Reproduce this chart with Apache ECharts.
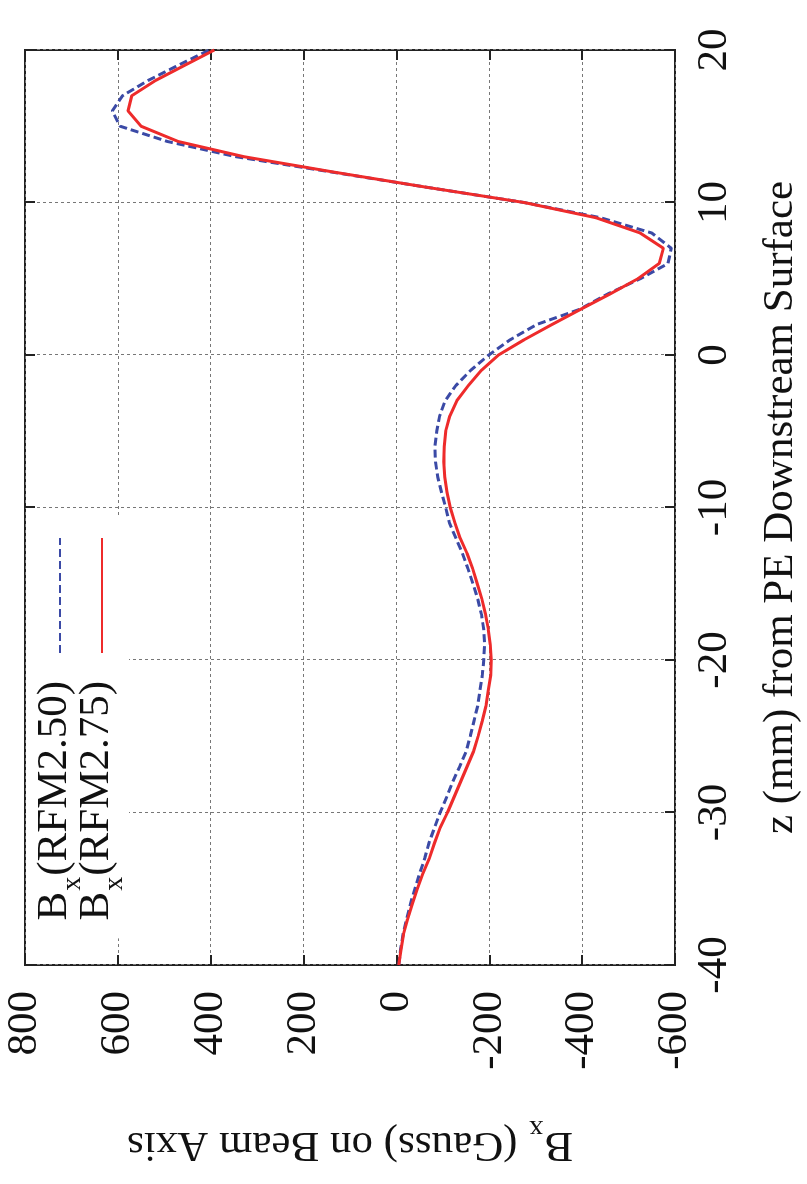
<!DOCTYPE html>
<html>
<head>
<meta charset="utf-8">
<script src="https://cdn.jsdelivr.net/npm/echarts@6/dist/echarts.min.js"></script>
<style>
html,body{margin:0;padding:0;background:#fff;overflow:hidden;width:807px;height:1184px;}
#chart{position:absolute;left:0;top:0;width:1184px;height:807px;transform-origin:0 0;transform:translate(0px,1184px) rotate(-90deg);background:#fff;}
</style>
</head>
<body>
<div id="chart"></div>
<script>
// z position (mm) from PE downstream surface
const zValues = [-40,-39,-38,-37,-36,-35,-34,-33,-32,-31,-30,-29,-28,-27,-26,-25,-24,-23,-22,-21,
  -20,-19,-18,-17,-16,-15,-14,-13,-12,-11,-10,-9,-8,-7,-6,-5,-4,-3,-2,-1,
  0,1,2,3,4,5,6,7,8,9,10,11,12,13,14,15,16,17,18,19,20];
// Bx (Gauss), RFM2.50 (blue dashed)
const bxRFM250 = [-5,-9,-14,-22,-30,-40,-50,-61,-70,-82,-94,-108,-121,-136,-150,-159,-167,-175,-180,-185,
  -188,-190,-188,-183,-175,-165,-154,-142,-128,-114,-106,-97,-89,-84,-83,-87,-93,-105,-128,-160,
  -199,-245,-302,-395,-455,-525,-585,-592,-550,-440,-275,-65,140,345,493,595,612,590,535,470,403];
// Bx (Gauss), RFM2.75 (red solid)
const bxRFM275 = [-5,-10,-15,-24,-34,-45,-57,-71,-82,-94,-110,-124,-138,-152,-166,-176,-185,-193,-198,-203,
  -204,-202,-198,-192,-184,-174,-164,-152,-137,-126,-116,-109,-104,-102,-103,-106,-115,-130,-155,-183,
  -220,-275,-335,-397,-460,-520,-566,-575,-525,-430,-275,-65,136,328,470,550,578,570,519,456,392];
const seriesNames = ['RFM2.50', 'RFM2.75'];
const zAxisTitle = 'z (mm) from PE Downstream Surface';
const bxAxisTitle = ' (Gauss) on Beam Axis';

const FONT = '"Liberation Serif", "Times New Roman", serif';
const BLUE = '#3b4aa6';
const RED = '#ee2b2b';

const rich = {
  b: {fontFamily: FONT, fontSize: 43, color: '#111', lineHeight: 34, padding: [0, 0, 10, 0]},
  s: {fontFamily: FONT, fontSize: 28, color: '#111', lineHeight: 18, padding: [26, 1, 0, 1]},
  g: {width: 23, lineHeight: 34}
};
const nameRich = {
  b: {fontFamily: FONT, fontSize: 43, color: '#111', lineHeight: 34, padding: [0, 0, 10, 0]},
  s: {fontFamily: FONT, fontSize: 28, color: '#111', lineHeight: 18, padding: [22, 1, 0, 1]}
};

const chart = echarts.init(document.getElementById('chart'));
const gridLine = {show: true, lineStyle: {color: '#777', width: 1, type: [3, 3]}};
const tick = {show: true, inside: true, length: 10, lineStyle: {color: '#222', width: 2}};
const noLine = {show: false, onZero: false};
const labelStyle = {fontFamily: FONT, fontSize: 43, color: '#111'};

chart.setOption({
  animation: false,
  backgroundColor: '#fff',
  grid: {left: 219, right: 50, top: 25, bottom: 124, show: true, borderColor: '#222', borderWidth: 2, backgroundColor: 'transparent'},
  legend: {
    orient: 'vertical', align: 'right', right: 515, top: 26,
    padding: [7, 22, 0, 18], backgroundColor: '#fff',
    itemWidth: 115, itemHeight: 14, itemGap: -12,
    itemStyle: {opacity: 0, borderWidth: 0},
    data: seriesNames,
    formatter: function (n) { return '{b|B}{s|x}{b|(' + n + ')}{g|}'; },
    textStyle: {fontFamily: FONT, fontSize: 43, color: '#111', rich: rich}
  },
  xAxis: [{
    type: 'value', min: -40, max: 20, interval: 10, position: 'bottom',
    axisLine: noLine, axisTick: tick, splitLine: gridLine,
    axisLabel: Object.assign({margin: 18, showMinLabel: true, showMaxLabel: true}, labelStyle),
    name: zAxisTitle, nameLocation: 'middle', nameGap: 84,
    nameTextStyle: {fontFamily: FONT, fontSize: 43, color: '#111'}
  }, {
    type: 'value', min: -40, max: 20, interval: 10, position: 'top',
    axisLine: noLine, axisTick: tick, splitLine: {show: false}, axisLabel: {show: false}
  }],
  yAxis: [{
    type: 'value', min: -600, max: 800, interval: 200, position: 'left',
    axisLine: noLine, axisTick: tick, splitLine: gridLine,
    axisLabel: Object.assign({margin: 26, showMinLabel: true, showMaxLabel: true}, labelStyle),
    name: '{b|B}{s|x}{b|' + bxAxisTitle + '}', nameLocation: 'middle', nameGap: 157,
    nameTextStyle: {fontFamily: FONT, fontSize: 43, color: '#111', rich: nameRich}
  }, {
    type: 'value', min: -600, max: 800, interval: 200, position: 'right',
    axisLine: noLine, axisTick: tick, splitLine: {show: false}, axisLabel: {show: false}
  }],
  series: [{
    name: seriesNames[0], type: 'line', symbol: 'none', showSymbol: false,
    xAxisIndex: 0, yAxisIndex: 0,
    data: zValues.map(function (z, i) { return [z, bxRFM250[i]]; }),
    lineStyle: {color: BLUE, width: 3, type: [8, 4]}, itemStyle: {color: BLUE}, z: 3
  }, {
    name: seriesNames[1], type: 'line', symbol: 'none', showSymbol: false,
    xAxisIndex: 0, yAxisIndex: 0,
    data: zValues.map(function (z, i) { return [z, bxRFM275[i]]; }),
    lineStyle: {color: RED, width: 3, type: 'solid'}, itemStyle: {color: RED}, z: 4
  }]
});
</script>
</body>
</html>
